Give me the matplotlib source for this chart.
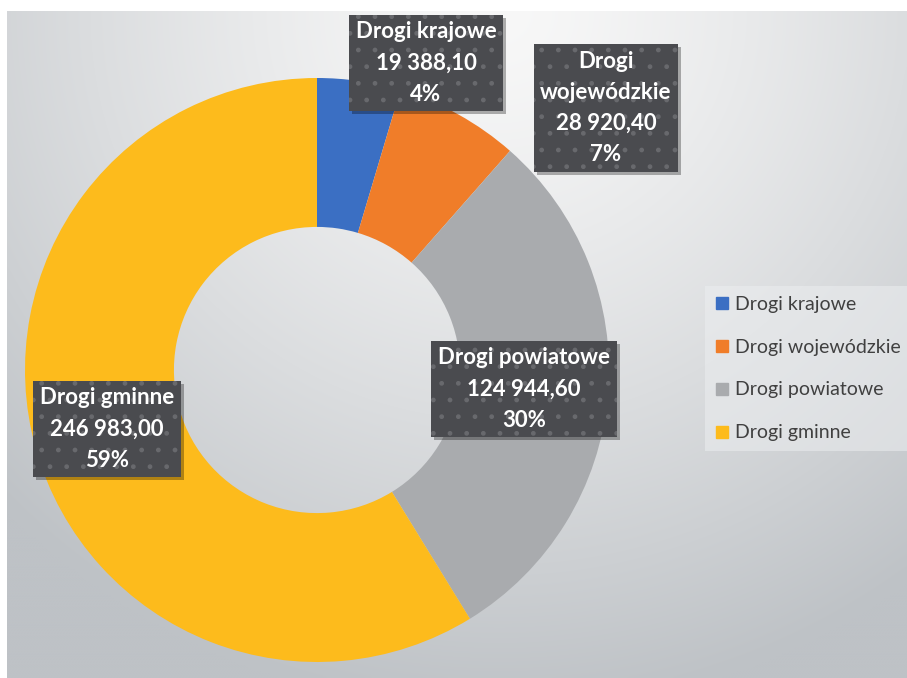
import numpy as np
import matplotlib
matplotlib.use("Agg")
import matplotlib.pyplot as plt
from matplotlib.lines import Line2D
from matplotlib.patches import Rectangle

categories = ["Drogi krajowe", "Drogi wojewódzkie", "Drogi powiatowe", "Drogi gminne"]
box_names = ["Drogi krajowe", "Drogi\nwojewódzkie", "Drogi powiatowe", "Drogi gminne"]
values = [19388.10, 28920.40, 124944.60, 246983.00]
percents = [4, 7, 30, 59]
colors = ["#3b6fc3", "#f07d29", "#a9abae", "#fdbb1c"]

W, H = 907, 678
fig = plt.figure(figsize=(W / 100, H / 100), dpi=100)
fig.patch.set_facecolor("white")

# background gradient panel
bx0, by0 = 7, 11
ax_bg = fig.add_axes([bx0 / W, 0, (W - bx0) / W, (H - by0) / H])
xs = np.linspace(bx0, W, 300)
ys = np.linspace(by0, H, 230)
X, Y = np.meshgrid(xs, ys)
d = np.sqrt(((X - 500) / 700) ** 2 + ((Y - 10) / 700) ** 2)
t = np.clip(d, 0, 1) ** 1.3
light = np.array([248, 248, 248]) / 255
dark = np.array([190, 194, 198]) / 255
img = light[None, None, :] * (1 - t[..., None]) + dark[None, None, :] * t[..., None]
ax_bg.imshow(img, aspect="auto", extent=[0, 1, 0, 1], interpolation="bicubic")
ax_bg.set_axis_off()

ax = fig.add_axes([0, 0, 1, 1])
ax.set_facecolor("none")
cx, cy, R = 317, H - 370, 292
wedges, _ = ax.pie(values, colors=colors, startangle=90, counterclock=False,
                   radius=R, center=(cx, cy),
                   wedgeprops=dict(width=R * 0.51, linewidth=0))
ax.set_xlim(0, W)
ax.set_ylim(0, H)
ax.set_aspect("equal")
ax.set_axis_off()

def fmt(v):
    return f"{v:,.2f}".replace(",", " ").replace(".", ",")

label_pos = [(426, 63), (606, 108), (524, 389), (107, 429)]
label_texts = []
for name, v, p, (lx, ly) in zip(box_names, values, percents, label_pos):
    s = f"{name}\n{fmt(v)}\n{p}%"
    txt = ax.text(lx, H - ly, s, color="white", zorder=5, ha="center", va="center",
                  fontsize=16, fontweight="bold", family="Lato", linespacing=1.6,
                  bbox=dict(boxstyle="square,pad=0.3", fc="#4a4b4f", ec="#68696d",
                            lw=0, hatch="."))
    label_texts.append(txt)

handles = [Line2D([0], [0], marker="s", linestyle="none", markersize=9,
                  markerfacecolor=c, markeredgecolor=c) for c in colors]
leg = ax.legend(handles, categories, loc="upper left",
                bbox_to_anchor=(705 / W, 1 - 286 / H), bbox_transform=fig.transFigure,
                frameon=True, fancybox=False,
                prop=dict(family="Lato", size=14),
                labelspacing=1.33, handlelength=0.7, handletextpad=0.35,
                borderpad=0.5, borderaxespad=0)
fr = leg.get_frame()
fr.set_facecolor("#eceef0")
fr.set_alpha(0.55)
fr.set_edgecolor("none")
for tx in leg.get_texts():
    tx.set_color("#404040")

# drop shadows under the label boxes
fig.canvas.draw()
for txt in label_texts:
    bb = txt.get_bbox_patch().get_window_extent()
    fig.patches.append(Rectangle((bb.x0 + 3, bb.y0 - 3), bb.width, bb.height,
                                 transform=None, fc="black", alpha=0.3, lw=0,
                                 zorder=0.5))
ax.set_zorder(1)
ax_bg.set_zorder(0)
# shadows need to be above background but below labels: draw them in ax instead
for p in list(fig.patches):
    fig.patches.remove(p)
    p.set_transform(matplotlib.transforms.IdentityTransform())
    p.set_zorder(4)
    ax.add_artist(p)

fig.savefig("out.png", dpi=100)
